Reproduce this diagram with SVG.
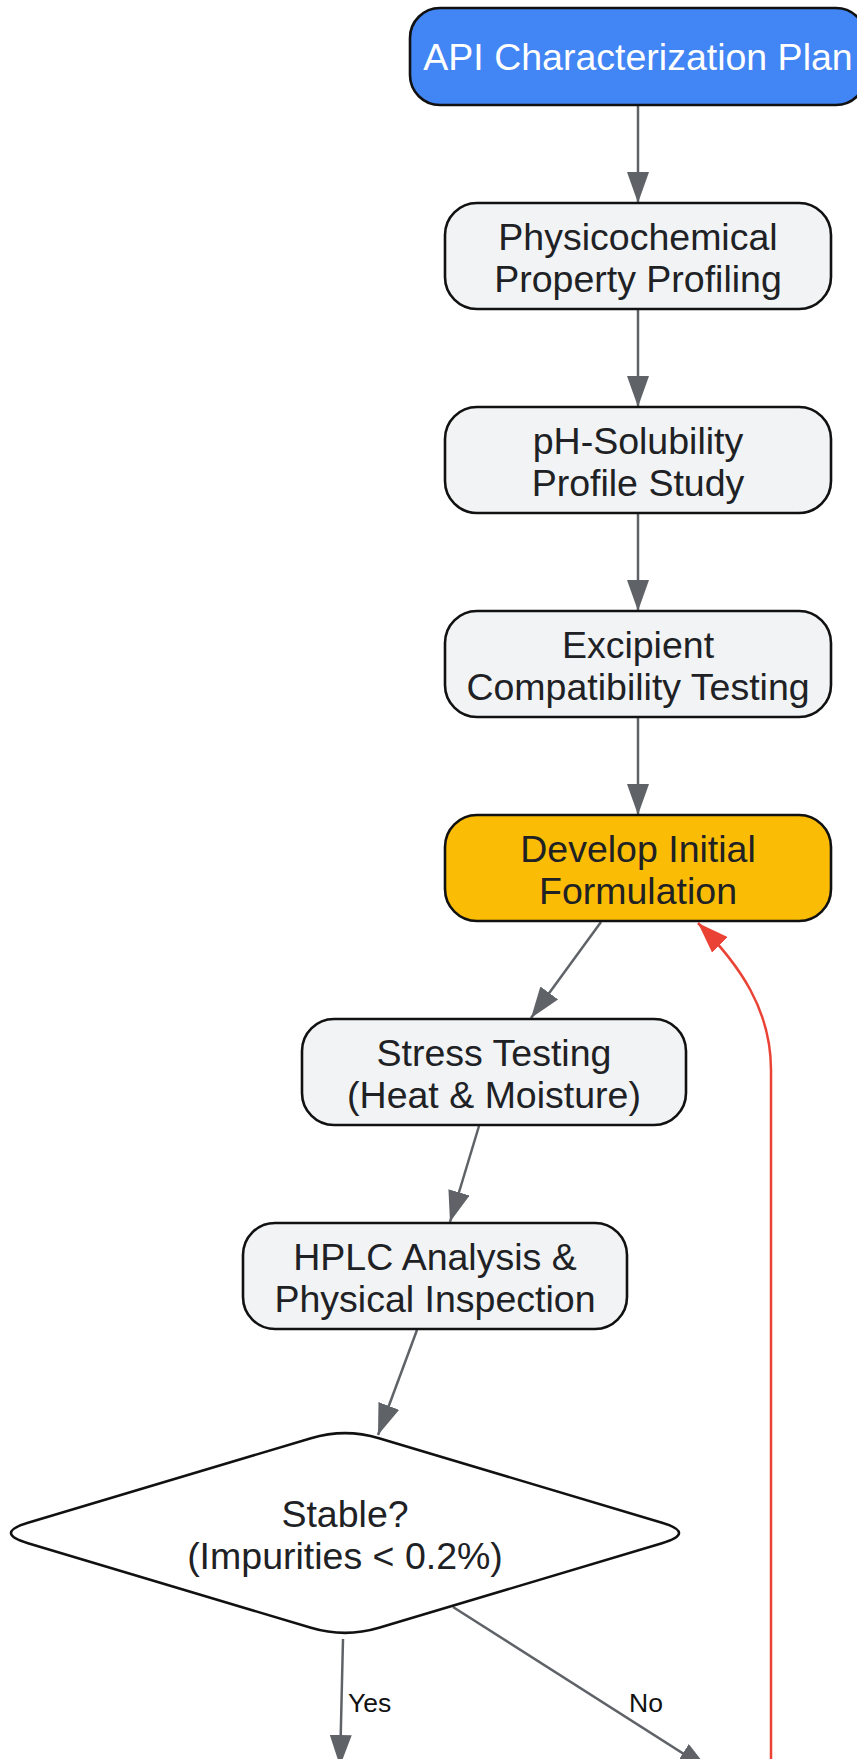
<svg xmlns="http://www.w3.org/2000/svg" width="857" height="1759" viewBox="0 0 857 1759">
<defs>
<style>
.node rect, .node path { stroke: #111111; stroke-width: 2.6; }
.proc { fill: #f1f3f4; }
.start { fill: #4285f4; }
.dev { fill: #fbbc05; }
.dec { fill: #ffffff; }
.t { font-family: "Liberation Sans", Arial, sans-serif; font-size: 37.5px; fill: #202124; text-anchor: middle; }
.tw { fill: #ffffff; }
.lbl { font-family: "Liberation Sans", Arial, sans-serif; font-size: 26.5px; fill: #111111; }
.edge { fill: none; stroke: #5f6368; stroke-width: 2.5; }
.back { fill: none; stroke: #ea4335; stroke-width: 2.5; }
</style>
<marker id="ah" viewBox="0 0 31 22" refX="31" refY="11" markerWidth="31" markerHeight="22" markerUnits="userSpaceOnUse" orient="auto">
<path d="M0,0 L31,11 L0,22 z" fill="#5f6368"/>
</marker>
<marker id="ahr" viewBox="0 0 31 22" refX="31" refY="11" markerWidth="31" markerHeight="22" markerUnits="userSpaceOnUse" orient="auto">
<path d="M0,0 L31,11 L0,22 z" fill="#ea4335"/>
</marker>
</defs>
<rect width="857" height="1759" fill="#ffffff"/>
<g id="connectors">
<line class="edge" x1="638" y1="105" x2="638" y2="203" marker-end="url(#ah)"/>
<line class="edge" x1="638" y1="309" x2="638" y2="407" marker-end="url(#ah)"/>
<line class="edge" x1="638" y1="513" x2="638" y2="611" marker-end="url(#ah)"/>
<line class="edge" x1="638" y1="717" x2="638" y2="815" marker-end="url(#ah)"/>
<line class="edge" x1="601" y1="922" x2="531" y2="1018" marker-end="url(#ah)"/>
<line class="edge" x1="479" y1="1126" x2="450" y2="1222" marker-end="url(#ah)"/>
<line class="edge" x1="417" y1="1330" x2="378" y2="1435" marker-end="url(#ah)"/>
<line class="edge" x1="343" y1="1639" x2="340" y2="1766" marker-end="url(#ah)"/>
<line class="edge" x1="453" y1="1607" x2="709" y2="1770" marker-end="url(#ah)"/>
<path class="back" d="M771,1780 L771,1070 C771,1010 740,965 698,923" marker-end="url(#ahr)"/>
<text class="lbl" x="348" y="1712">Yes</text>
<text class="lbl" x="629" y="1712">No</text>
</g>
<g id="n_api" class="node">
<rect class="start" x="410" y="8" width="456" height="97" rx="30" ry="30"/>
<text class="t tw" x="638" y="70">API Characterization Plan</text>
</g>
<g id="n_phys" class="node">
<rect class="proc" x="445" y="203" width="386" height="106" rx="32" ry="32"/>
<text class="t" x="638" y="250">Physicochemical</text>
<text class="t" x="638" y="292">Property Profiling</text>
</g>
<g id="n_ph" class="node">
<rect class="proc" x="445" y="407" width="386" height="106" rx="32" ry="32"/>
<text class="t" x="638" y="454">pH-Solubility</text>
<text class="t" x="638" y="496">Profile Study</text>
</g>
<g id="n_exc" class="node">
<rect class="proc" x="445" y="611" width="386" height="106" rx="32" ry="32"/>
<text class="t" x="638" y="658">Excipient</text>
<text class="t" x="638" y="700">Compatibility Testing</text>
</g>
<g id="n_dev" class="node">
<rect class="dev" x="445" y="815" width="386" height="106" rx="32" ry="32"/>
<text class="t" x="638" y="862">Develop Initial</text>
<text class="t" x="638" y="904">Formulation</text>
</g>
<g id="n_stress" class="node">
<rect class="proc" x="302" y="1019" width="384" height="106" rx="32" ry="32"/>
<text class="t" x="494" y="1066">Stress Testing</text>
<text class="t" x="494" y="1108">(Heat &amp; Moisture)</text>
</g>
<g id="n_hplc" class="node">
<rect class="proc" x="243" y="1223" width="384" height="106" rx="32" ry="32"/>
<text class="t" x="435" y="1270">HPLC Analysis &amp;</text>
<text class="t" x="435" y="1312">Physical Inspection</text>
</g>
<g id="n_stable" class="node">
<path class="dec" d="M311,1438.2 Q345,1428 379,1438.2 L662,1522.8 Q696,1533 662,1543.2 L379,1627.8 Q345,1638 311,1627.8 L28,1543.2 Q-6,1533 28,1522.8 Z"/>
<text class="t" x="345" y="1527">Stable?</text>
<text class="t" x="345" y="1569">(Impurities &lt; 0.2%)</text>
</g>
</svg>
